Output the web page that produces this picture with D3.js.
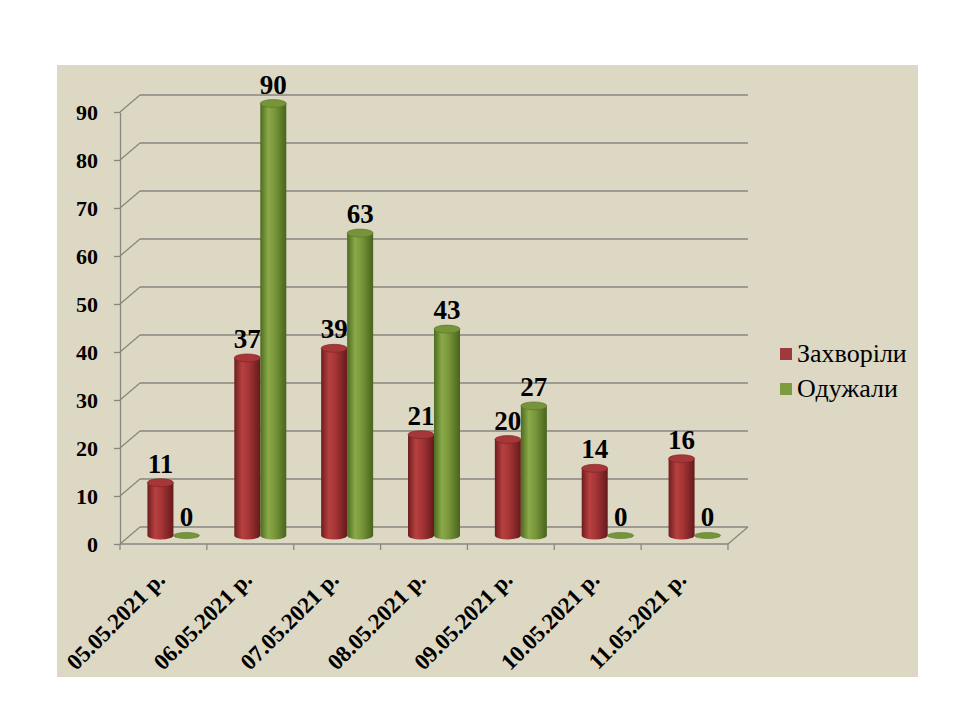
<!DOCTYPE html>
<html>
<head>
<meta http-equiv='Content-Type' content='text/html;charset=utf-8'/>
<title>Захворіли / Одужали</title>
<script src='https://d3js.org/d3.v7.min.js'></script>
<style>
body { margin: 0; background: #ffffff; }
</style>
</head>
<body>
<script>
'use strict'

// data
const dates = ['05.05.2021 р.', '06.05.2021 р.', '07.05.2021 р.', '08.05.2021 р.',
	'09.05.2021 р.', '10.05.2021 р.', '11.05.2021 р.']
const sick = [11, 37, 39, 21, 20, 14, 16]
const recovered = [0, 90, 63, 43, 27, 0, 0]
const yTicks = [0, 10, 20, 30, 40, 50, 60, 70, 80, 90]
const seriesNames = ['Захворіли', 'Одужали']

const W = 960, H = 720
const depthX = 20, depthY = -17   // 3d wall offset
const barW = 26, ry = 4
const FONT = "'Liberation Serif'"

const svg = d3.select('body').append('svg')
	.attr('width', W)
	.attr('height', H)

svg.append('rect').attr('width', W).attr('height', H).attr('fill', '#ffffff')
svg.append('rect')
	.attr('x', 57).attr('y', 65).attr('width', 861).attr('height', 612)
	.attr('fill', '#dcd8c3')

const x = d3.scaleBand().domain(dates).range([120, 728]).paddingInner(0).paddingOuter(0)
const y = d3.scaleLinear().domain([0, 90]).range([544, 112])

// gradients for cylinders
const defs = svg.append('defs')
function grad(id, stops)
{
	const g = defs.append('linearGradient').attr('id', id)
		.attr('x1', '0%').attr('x2', '100%').attr('y1', '0%').attr('y2', '0%')
	stops.forEach(s => g.append('stop').attr('offset', s[0]).attr('stop-color', s[1]))
}
grad('gRed', [[0, '#6e1d1f'], [0.3, '#b7413f'], [0.55, '#a53536'], [1, '#651a1c']])
grad('gGreen', [[0, '#4d6a20'], [0.3, '#8aa948'], [0.55, '#7a983b'], [1, '#48631e']])

const grid = svg.append('g').attr('stroke', '#88877f').attr('stroke-width', 1.3).attr('fill', 'none')

// back wall grid lines and diagonals
yTicks.forEach(t => {
	grid.append('line')
		.attr('x1', 120 + depthX).attr('x2', 728 + depthX)
		.attr('y1', y(t) + depthY).attr('y2', y(t) + depthY)
	grid.append('line')
		.attr('x1', 120).attr('x2', 120 + depthX)
		.attr('y1', y(t)).attr('y2', y(t) + depthY)
})

// floor front edge and right side
grid.append('line').attr('x1', 120).attr('x2', 728).attr('y1', y(0)).attr('y2', y(0))
grid.append('line').attr('x1', 728).attr('x2', 728 + depthX).attr('y1', y(0)).attr('y2', y(0) + depthY)

// category ticks
dates.concat([null]).forEach(d => {
	const xx = d === null ? 728 : x(d)
	grid.append('line').attr('x1', xx).attr('x2', xx).attr('y1', y(0)).attr('y2', y(0) + 6)
})

// y axis
const yAxis = svg.append('g')
	.attr('transform', 'translate(120,0)')
	.call(d3.axisLeft(y).tickValues(yTicks).tickSize(6).tickSizeOuter(0).tickPadding(16))
yAxis.attr('font-family', null)
yAxis.select('.domain').attr('stroke', '#88877f').attr('stroke-width', 1.3)
yAxis.selectAll('.tick line').attr('stroke', '#88877f').attr('stroke-width', 1.3)
yAxis.selectAll('.tick text')
	.style('font-family', FONT)
	.style('font-size', '22px').style('font-weight', 'bold').attr('fill', '#000')
	.attr('dy', '0.34em')

// cylinders
const base = y(0) + depthY / 2
const shiftX = depthX / 2
function cylinder(cx, v, fillId, topCol, edgeCol)
{
	const g = svg.append('g')
	const top = base - (y(0) - y(v))
	if (v > 0) {
		g.append('path')
			.attr('d', `M${cx - barW / 2},${top} L${cx - barW / 2},${base} ` +
				`A${barW / 2},${ry} 0 0 0 ${cx + barW / 2},${base} L${cx + barW / 2},${top} Z`)
			.attr('fill', `url(#${fillId})`)
	}
	g.append('ellipse')
		.attr('cx', cx).attr('cy', top).attr('rx', barW / 2).attr('ry', v > 0 ? ry : 3)
		.attr('fill', topCol).attr('stroke', edgeCol).attr('stroke-width', 0.6)
	svg.append('text')
		.attr('x', cx).attr('y', top - 10)
		.attr('text-anchor', 'middle')
		.style('font-family', FONT)
		.style('font-size', '27px').style('font-weight', 'bold')
		.text(v)
}

dates.forEach((d, i) => {
	const c = x(d) + x.bandwidth() / 2 + shiftX
	cylinder(c - barW / 2, sick[i], 'gRed', '#a63739', '#7a2224')
	cylinder(c + barW / 2, recovered[i], 'gGreen', '#76953a', '#55732a')
})

// x labels
dates.forEach(d => {
	const cx = x(d) + x.bandwidth() / 2 + 3
	svg.append('text')
		.attr('transform', `translate(${cx},581) rotate(-45)`)
		.attr('text-anchor', 'end')
		.style('font-family', FONT)
		.style('font-size', '23px').style('font-weight', 'bold')
		.text(d)
})

// legend
const legendColors = ['#a0393b', '#7d9c3f']
seriesNames.forEach((n, i) => {
	svg.append('rect')
		.attr('x', 780).attr('y', 348 + i * 35).attr('width', 12).attr('height', 12)
		.attr('fill', legendColors[i])
	svg.append('text')
		.attr('x', 797).attr('y', 362 + i * 35)
		.style('font-family', FONT)
		.style('font-size', '26px')
		.text(n)
})
</script>
</body>
</html>
